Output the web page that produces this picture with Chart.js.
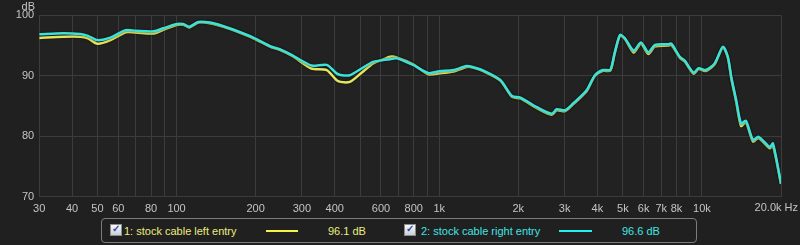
<!DOCTYPE html>
<html>
<head>
<meta charset="utf-8">
<script src="https://cdn.jsdelivr.net/npm/chart.js@4/dist/chart.umd.min.js"></script>
<style>
  body { margin: 0; background: #202020; font-family: 'Liberation Sans', Arial, sans-serif; }
  #wrap { position: relative; width: 800px; height: 245px; overflow: hidden; }
  #box { position: absolute; left: 101px; top: 218px; width: 594px; height: 23px; border: 1px solid #7c7c7c; border-radius: 4px; }
  .cb { position: absolute; top: 224px; width: 10px; height: 10px; border: 1px solid #8c8c8c; background: linear-gradient(#fafafa, #c9ced8); }
  .cb span { position: absolute; left: 1px; top: -2px; font-size: 10px; line-height: 12px; color: #2c4fa8; font-weight: bold; }
  .txt { position: absolute; top: 225px; font-size: 11px; line-height: 13px; white-space: nowrap; }
  .smp { position: absolute; top: 230px; height: 2px; }
</style>
</head>
<body>
<div id="wrap">
  <canvas id="cht-fr" width="800" height="215"></canvas>
  <div id="box"></div>
  <div class="cb" style="left:110px"><span>&#10003;</span></div>
  <div class="txt" style="left:124px;color:#ecec7c">1: stock cable left entry</div>
  <div class="smp" style="left:266px;width:32px;background:#f4f440"></div>
  <div class="txt" style="left:328px;color:#ecec7c">96.1 dB</div>
  <div class="cb" style="left:404px"><span>&#10003;</span></div>
  <div class="txt" style="left:421px;color:#40e4e4">2: stock cable right entry</div>
  <div class="smp" style="left:559px;width:33px;background:#22f0f0"></div>
  <div class="txt" style="left:622px;color:#40e4e4">96.6 dB</div>
</div>
<script>
// frequencies (Hz) shared by both measurements
var freqs = [30, 37, 43, 46, 50, 56, 64, 70, 82, 89, 100, 106, 112, 121, 134, 151, 170, 196,
  230, 247, 278, 326, 373, 412, 457, 506, 560, 612, 650, 688, 795, 909, 1000, 1132, 1270,
  1330, 1473, 1708, 1893, 2037, 2353, 2682, 2800, 3016, 3240, 3640, 3913, 4200, 4480, 4650,
  4878, 5090, 5497, 5860, 6253, 6630, 7430, 7650, 8237, 8600, 9300, 9720, 10340, 11180,
  12020, 12550, 12930, 13500, 14090, 14700, 15640, 16440, 18120, 18630, 20000];

var leftEntry = [96.25, 96.45, 96.45, 96.2, 95.3, 95.9, 97.2, 97.15, 97.0, 97.6, 98.4, 98.45, 98.0,
  98.8, 98.7, 98.1, 97.3, 96.2, 94.7, 94.3, 93.2, 91.2, 90.95, 89.1, 89.0, 90.5, 92.05, 92.7,
  93.15, 93.05, 91.9, 90.25, 90.4, 90.7, 91.45, 91.4, 90.75, 89.2, 86.5, 86.25, 84.65, 83.55,
  84.3, 84.15, 85.3, 87.45, 89.95, 90.8, 90.85, 93.6, 96.65, 96.1, 93.85, 95.3, 93.6, 94.85,
  95.0, 95.1, 93.0, 92.35, 90.35, 91.1, 90.8, 91.9, 94.7, 93.0, 89.6, 85.7, 81.7, 82.3, 79.15,
  79.7, 78.0, 78.5, 72.1];

var rightEntry = [96.85, 97.05, 96.9, 96.6, 95.9, 96.3, 97.55, 97.45, 97.35, 97.85, 98.55, 98.55, 98.1,
  98.9, 98.8, 98.2, 97.4, 96.3, 94.8, 94.4, 93.3, 91.7, 91.8, 90.25, 90.1, 91.2, 92.3, 92.6,
  92.75, 92.9, 91.8, 90.45, 90.75, 90.95, 91.6, 91.5, 90.85, 89.3, 86.65, 86.4, 84.8, 83.7,
  84.45, 84.3, 85.45, 87.6, 90.1, 90.95, 91.0, 93.7, 96.75, 96.2, 94.15, 95.5, 93.9, 95.1,
  95.2, 95.3, 93.15, 92.5, 90.5, 91.25, 90.95, 92.05, 94.8, 93.15, 89.85, 86.0, 82.1, 82.55,
  79.4, 79.9, 78.2, 78.8, 72.2];

// vertical grid lines and the ones that get a label
var gridFreqs = [30, 40, 50, 60, 70, 80, 90, 100, 200, 300, 400, 500, 600, 700, 800, 900, 1000,
  2000, 3000, 4000, 5000, 6000, 7000, 8000, 9000, 10000, 20000];
var freqLabels = { 30: '30', 40: '40', 50: '50', 60: '60', 80: '80', 100: '100', 200: '200',
  300: '300', 400: '400', 600: '600', 800: '800', 1000: '1k', 2000: '2k', 3000: '3k',
  4000: '4k', 5000: '5k', 6000: '6k', 7000: '7k', 8000: '8k', 10000: '10k' };

var dbTicks = [70, 80, 90, 100];

var textCol = '#c4c4c4';
var gridCol = '#3c3c3c';

function pts(vals) {
  return freqs.map(function (f, i) { return { x: f, y: vals[i] }; });
}

var extras = {
  id: 'extras',
  beforeDraw: function (chart) {
    var ctx = chart.ctx, a = chart.chartArea;
    ctx.save();
    ctx.fillStyle = '#222222';
    ctx.fillRect(a.left, a.top, a.right - a.left, a.bottom - a.top);
    ctx.restore();
  },
  beforeDatasetDraw: function (chart) {
    chart.ctx.save();
    chart.ctx.shadowColor = 'rgba(0,0,0,0.7)';
    chart.ctx.shadowBlur = 2;
  },
  afterDatasetDraw: function (chart) {
    chart.ctx.restore();
  },
  afterDraw: function (chart) {
    var ctx = chart.ctx, a = chart.chartArea;
    ctx.save();
    ctx.fillStyle = textCol;
    ctx.font = '11px "Liberation Sans", Arial, sans-serif';
    ctx.textAlign = 'right';
    ctx.textBaseline = 'alphabetic';
    ctx.fillText('dB', 35, 10);
    ctx.textBaseline = 'top';
    ctx.fillText('20.0k Hz', 798, a.bottom + 6);
    ctx.restore();
  }
};

var chFR = new Chart(document.getElementById('cht-fr'), {
  type: 'line',
  data: {
    datasets: [
      { label: '2: stock cable right entry', data: pts(rightEntry), borderColor: '#3ce2da',
        borderWidth: 2.5, pointRadius: 0, tension: 0.25, fill: false, order: 0 },
      { label: '1: stock cable left entry', data: pts(leftEntry), borderColor: '#e6e65e',
        borderWidth: 2.5, pointRadius: 0, tension: 0.25, fill: false, order: 1 }
    ]
  },
  options: {
    responsive: false,
    animation: false,
    layout: { padding: { top: 15.3, right: 19, left: 0, bottom: 0 } },
    plugins: { legend: { display: false }, tooltip: { enabled: false } },
    scales: {
      x: {
        type: 'logarithmic', min: 30, max: 20000,
        afterBuildTicks: function (s) { s.ticks = gridFreqs.map(function (v) { return { value: v }; }); },
        afterFit: function (s) { s.height = 18.3; },
        grid: { color: gridCol, drawTicks: false },
        border: { color: gridCol },
        ticks: {
          autoSkip: false, maxRotation: 0, padding: 6, color: textCol,
          font: { family: 'Liberation Sans', size: 11 },
          callback: function (v) { return freqLabels[v] || ''; }
        }
      },
      y: {
        min: 70, max: 100,
        afterBuildTicks: function (s) { s.ticks = dbTicks.map(function (v) { return { value: v }; }); },
        afterFit: function (s) { s.width = 39.2; },
        grid: { color: gridCol, drawTicks: false },
        border: { color: gridCol },
        ticks: { padding: 5, color: textCol, font: { family: 'Liberation Sans', size: 11 } }
      }
    }
  },
  plugins: [extras]
});
</script>
</body>
</html>
